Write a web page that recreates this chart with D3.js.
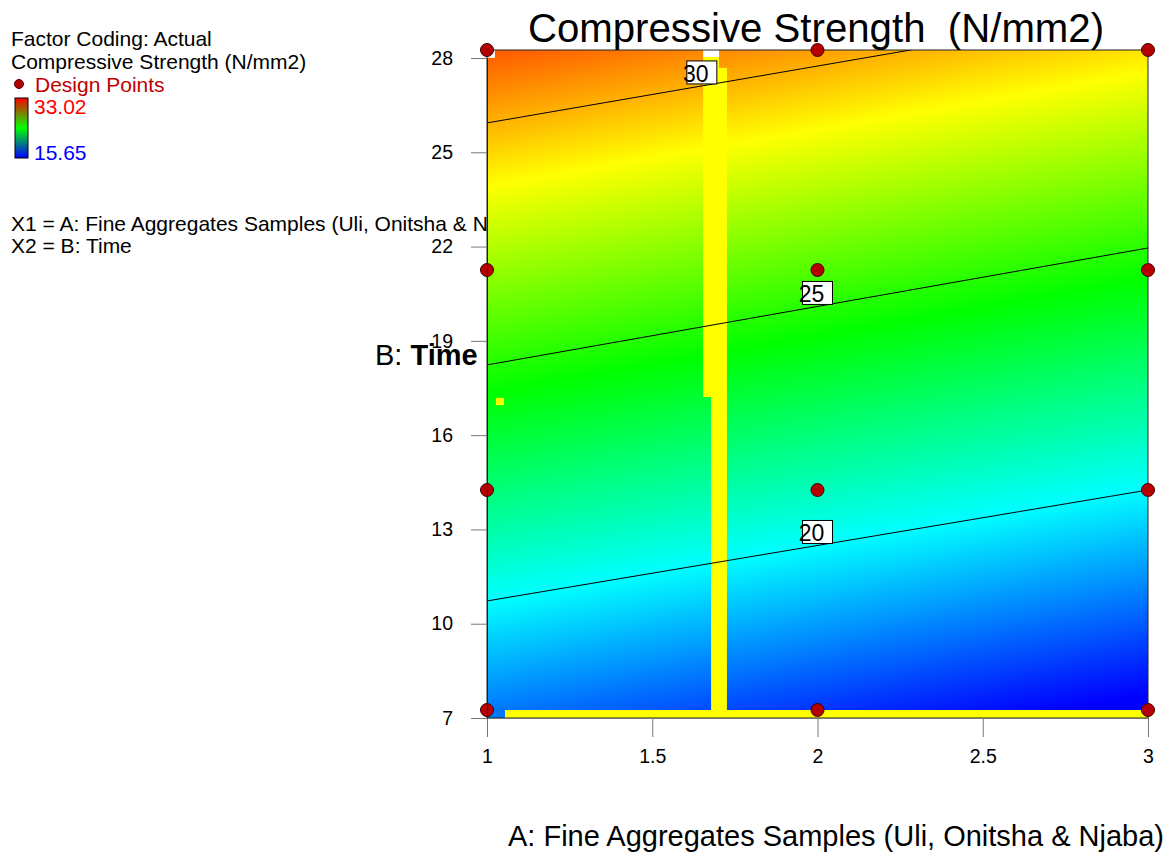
<!DOCTYPE html>
<html>
<head>
<meta charset="utf-8">
<script src="https://cdnjs.cloudflare.com/ajax/libs/d3/7.8.5/d3.min.js"></script>
<style>
  body { margin: 0; background: #fff; }
  svg { font-family: "Liberation Sans", Arial, sans-serif; }
</style>
</head>
<body>
<div id="chart"></div>
<script>
// values
const designA = [1, 1, 1, 1, 2, 2, 2, 2, 3, 3, 3, 3];
const designB = [7, 14, 21, 28, 7, 14, 21, 28, 7, 14, 21, 28];
const contourLevels = [20, 25, 30];
const contourBatA1 = [10.47, 17.98, 25.68];
const contourBatA3 = [14.0, 21.7, 29.3];
const contourLabelA = [2, 2, 1.65];
const colourValues = [15.65, 19.99, 24.34, 28.68, 33.02];
const colourRange = ["#0000ff", "#00ffff", "#00ff00", "#ffff00", "#ff0000"];
const xTicks = [1, 1.5, 2, 2.5, 3];
const yTicks = [7, 10, 13, 16, 19, 22, 25, 28];
const legendMax = 33.02;
const legendMin = 15.65;
// glitches in the exported picture, [a0, a1, b0, b1] in data units
const glitchYellow = [[1.654, 1.702, 16.96, 27.78], [1.678, 1.726, 7, 27.43], [1.054, 3, 6.745, 7], [1.027, 1.051, 16.70, 16.93]];
const glitchWhite = [[1.654, 1.702, 27.78, 28], [1, 1.024, 27.75, 28]];
const glitchBlue = [[1, 1.054, 6.745, 7]];

const width = 1173, height = 861;

const svg = d3.select('#chart').append('svg')
  .attr('width', width)
  .attr('height', height);

// Scales
const x = d3.scaleLinear().domain([1, 3]).range([487, 1148]);
const y = d3.scaleLinear().domain([7, 28]).range([718, 58]);
// the colour image sits a few pixels higher than the axis
const yR = d3.scaleLinear().domain([7, 28]).range([710, 50]);
const colour = d3.scaleLinear().domain(colourValues).range(colourRange);

// Left legend
const legend = svg.append('g').style('font-size', '21px');
legend.append('text').attr('x', 11).attr('y', 46).text('Factor Coding: Actual');
legend.append('text').attr('x', 11).attr('y', 69).text('Compressive Strength (N/mm2)');
legend.append('circle').attr('cx', 19).attr('cy', 84).attr('r', 4.5)
  .attr('fill', '#b00000').attr('stroke', '#500000');
legend.append('text').attr('x', 35).attr('y', 92).attr('fill', '#c00000').text('Design Points');

const defs = svg.append('defs');
const lg = defs.append('linearGradient').attr('id', 'legendGrad')
  .attr('x1', 0).attr('y1', 0).attr('x2', 0).attr('y2', 1);
lg.append('stop').attr('offset', 0).attr('stop-color', '#ff0000');
lg.append('stop').attr('offset', 0.5).attr('stop-color', '#00ff00');
lg.append('stop').attr('offset', 1).attr('stop-color', '#0000ff');
legend.append('rect').attr('x', 15).attr('y', 98).attr('width', 13).attr('height', 60)
  .attr('fill', 'url(#legendGrad)').attr('stroke', '#000');
legend.append('text').attr('x', 34).attr('y', 114).attr('fill', '#ff0000').text(legendMax.toFixed(2));
legend.append('text').attr('x', 34).attr('y', 160).attr('fill', '#0000ff').text(legendMin.toFixed(2));
legend.append('text').attr('x', 11).attr('y', 231).text('X1 = A: Fine Aggregates Samples (Uli, Onitsha & Njaba)');
legend.append('text').attr('x', 11).attr('y', 253).text('X2 = B: Time');

// Colour field: linear surface -> linear gradient across the contour lines
const p20 = [x(1), yR(contourBatA1[0])];
const p30 = [x(1), yR(contourBatA1[2])];
const dir = [x(3) - x(1), d3.mean(contourLevels, (d, i) => yR(contourBatA3[i]) - yR(contourBatA1[i]))];
const len = Math.hypot(dir[0], dir[1]);
const n = [-dir[1] / len, dir[0] / len];
const dist = (p30[0] - p20[0]) * n[0] + (p30[1] - p20[1]) * n[1];
const lvlLo = contourLevels[0], lvlHi = contourLevels[2];
const at = v => [p20[0] + n[0] * dist * (v - lvlLo) / (lvlHi - lvlLo), p20[1] + n[1] * dist * (v - lvlLo) / (lvlHi - lvlLo)];
const vLo = colourValues[0], vHi = colourValues[colourValues.length - 1];
const g0 = at(vLo), g1 = at(vHi);
const field = defs.append('linearGradient').attr('id', 'fieldGrad')
  .attr('gradientUnits', 'userSpaceOnUse')
  .attr('x1', g0[0]).attr('y1', g0[1]).attr('x2', g1[0]).attr('y2', g1[1]);
field.selectAll('stop').data(colourValues).enter().append('stop')
  .attr('offset', d => (d - vLo) / (vHi - vLo))
  .attr('stop-color', d => colour(d));

defs.append('clipPath').attr('id', 'plotClip').append('rect')
  .attr('x', x(1)).attr('y', yR(28))
  .attr('width', x(3) - x(1)).attr('height', y(7) - yR(28));

const plot = svg.append('g');
plot.append('rect')
  .attr('x', x(1)).attr('y', yR(28))
  .attr('width', x(3) - x(1)).attr('height', y(7) - yR(28))
  .attr('fill', 'url(#fieldGrad)');

function glitch(list, fill) {
  plot.selectAll(null).data(list).enter().append('rect')
    .attr('x', d => x(d[0]))
    .attr('y', d => yR(d[3]))
    .attr('width', d => x(d[1]) - x(d[0]))
    .attr('height', d => yR(d[2]) - yR(d[3]))
    .attr('fill', fill);
}
glitch(glitchYellow, '#ffff00');
glitch(glitchWhite, '#ffffff');
glitch(glitchBlue, colour(17.7));

plot.append('rect')
  .attr('x', x(1)).attr('y', yR(28))
  .attr('width', x(3) - x(1)).attr('height', y(7) - yR(28))
  .attr('fill', 'none').attr('stroke', '#222').attr('stroke-width', 1);

// Contours
const contours = plot.append('g').attr('clip-path', 'url(#plotClip)');
contours.selectAll('line').data(contourLevels).enter().append('line')
  .attr('x1', x(1)).attr('y1', (d, i) => yR(contourBatA1[i]))
  .attr('x2', x(3)).attr('y2', (d, i) => yR(contourBatA3[i]))
  .attr('stroke', '#000').attr('stroke-width', 1);

const labels = plot.selectAll('g.clabel').data(contourLevels).enter().append('g')
  .attr('class', 'clabel')
  .attr('transform', (d, i) => {
    const a = contourLabelA[i];
    const b = contourBatA1[i] + (contourBatA3[i] - contourBatA1[i]) * (a - 1) / 2;
    return 'translate(' + x(a) + ',' + yR(b) + ')';
  });
labels.append('rect').attr('x', -15).attr('y', -25).attr('width', 30).attr('height', 23)
  .attr('fill', '#fff').attr('stroke', '#000').attr('stroke-width', 1);
labels.append('text').attr('x', -6).attr('y', -4).attr('text-anchor', 'middle')
  .style('font-size', '23px').text(d => d);

// Axes
const xaxis = svg.append('g').attr('transform', 'translate(0,' + y(7) + ')')
  .call(d3.axisBottom(x).tickValues(xTicks).tickSize(19).tickSizeOuter(0).tickPadding(12).tickFormat(d3.format('')));
const yaxis = svg.append('g').attr('transform', 'translate(' + x(1) + ',0)')
  .call(d3.axisLeft(y).tickValues(yTicks).tickSize(16).tickSizeOuter(0).tickPadding(18));
[xaxis, yaxis].forEach(ax => {
  ax.select('.domain').attr('stroke', '#777');
  ax.selectAll('.tick line').attr('stroke', '#777');
  ax.selectAll('.tick text').attr('fill', '#000')
    .style('font-size', '19.5px').style('font-family', '"Liberation Sans", Arial, sans-serif');
});
yaxis.select('.domain').attr('stroke', '#222');

// Design points
plot.selectAll('circle').data(designA).enter().append('circle')
  .attr('cx', d => x(d))
  .attr('cy', (d, i) => yR(designB[i]))
  .attr('r', 6.5)
  .attr('fill', '#b40000')
  .attr('stroke', '#400000')
  .attr('stroke-width', 1);

// Titles
svg.append('text').attr('x', 816).attr('y', 42).attr('text-anchor', 'middle')
  .style('font-size', '40.2px').style('white-space', 'pre')
  .text('Compressive Strength  (N/mm2)');
svg.append('text').attr('x', 836).attr('y', 846).attr('text-anchor', 'middle')
  .style('font-size', '29px').text('A: Fine Aggregates Samples (Uli, Onitsha & Njaba)');
const ylab = svg.append('text').attr('x', 375).attr('y', 365).style('font-size', '29px');
ylab.append('tspan').text('B: ').style('white-space', 'pre');
ylab.append('tspan').style('font-weight', 'bold').text('Time');
</script>
</body>
</html>
